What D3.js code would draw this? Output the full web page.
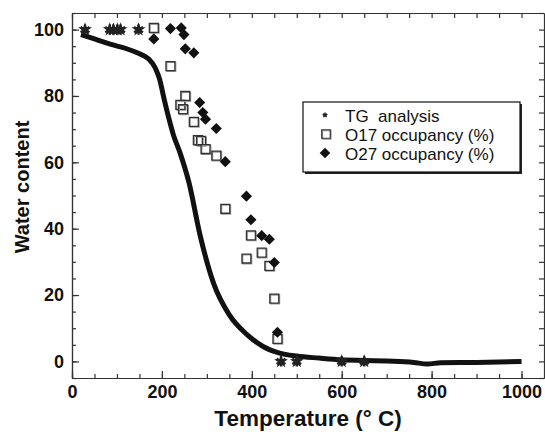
<!DOCTYPE html>
<html>
<head>
<meta charset="utf-8">
<script src="https://cdn.jsdelivr.net/npm/d3@7"></script>
<style>
  body { margin: 0; background: #fff; }
  svg { display: block; font-family: "Liberation Sans", Arial, sans-serif; }
</style>
</head>
<body>
<svg id="chart" width="545" height="432"></svg>
<script>
// TG curve (continuous line)
const curveTemp = [20, 50, 85, 120, 145, 170, 185, 195, 205, 215, 225, 240, 260, 285, 315, 350, 390, 425, 460, 500, 550, 600, 650, 700, 760, 790, 820, 900, 1000];
const curveWater = [98.5, 97.2, 95.6, 94.3, 93, 91.2, 88.5, 85, 79, 73.5, 68.5, 63, 54, 38, 23.5, 14, 8, 4.5, 2.6, 1.6, 1, 0.5, 0.3, 0.1, -0.3, -0.8, -0.4, -0.3, 0];

// TG analysis points
const tgTemp = [29, 84, 92, 101, 108, 148, 465, 500, 600, 650];
const tgWater = [100, 100, 100, 100, 100, 100, 0, 0, 0, 0];

// O17 occupancy (%)
const o17Temp = [182, 219, 241, 247, 252, 271, 280, 287, 297, 321, 341, 388, 398, 422, 439, 450, 457];
const o17Water = [100.5, 89, 77.3, 76, 80, 72.2, 66.7, 66.5, 64, 62, 46, 31, 38, 32.8, 28.8, 18.9, 6.8];

// O27 occupancy (%)
const o27Temp = [182, 219, 243, 249, 252, 271, 284, 291, 297, 321, 341, 388, 398, 422, 439, 450, 457];
const o27Water = [97.2, 100.3, 100.5, 98.5, 94.2, 93, 78, 75, 73, 70.2, 60.2, 49.8, 42.7, 37.9, 36.8, 29.8, 8.8];

const xTicks = [0, 200, 400, 600, 800, 1000];
const yTicks = [0, 20, 40, 60, 80, 100];
const legendLabels = ["TG  analysis", "O17 occupancy (%)", "O27 occupancy (%)"];

const svg = d3.select("#chart");
const plotLeft = 72, plotRight = 544, plotTop = 13, plotBottom = 378;

const x = d3.scaleLinear().domain([0, 1050]).range([plotLeft, plotRight]);
const y = d3.scaleLinear().domain([-5, 105]).range([plotBottom, plotTop]);

const axisColor = "#333";

function styleAxis(g) {
  g.selectAll("path.domain").attr("stroke", axisColor).attr("stroke-width", 1.2);
  g.selectAll(".tick line").attr("stroke", axisColor).attr("stroke-width", 1.2);
}
function styleLabels(g) {
  g.selectAll("text").attr("font-size", 18).attr("font-weight", "bold").attr("fill", "#111")
    .attr("font-family", "'Liberation Sans', Arial, sans-serif");
}

const xMinor = d3.range(0, 1050, 50);
const yMinor = d3.range(-5, 106, 5);

// bottom
svg.append("g").attr("transform", "translate(0," + plotBottom + ")")
  .call(d3.axisBottom(x).tickValues(xMinor).tickSize(-4).tickSizeOuter(0).tickFormat(""))
  .call(styleAxis);
svg.append("g").attr("transform", "translate(0," + plotBottom + ")")
  .call(d3.axisBottom(x).tickValues(xTicks).tickSize(-7).tickSizeOuter(0).tickPadding(7).tickFormat(d3.format("d")))
  .call(styleAxis)
  .call(styleLabels);
// top
svg.append("g").attr("transform", "translate(0," + plotTop + ")")
  .call(d3.axisTop(x).tickValues(xMinor).tickSize(-5).tickSizeOuter(0).tickFormat(""))
  .call(styleAxis);
// left
svg.append("g").attr("transform", "translate(" + plotLeft + ",0)")
  .call(d3.axisLeft(y).tickValues(yMinor).tickSize(-4).tickSizeOuter(0).tickFormat(""))
  .call(styleAxis);
svg.append("g").attr("transform", "translate(" + plotLeft + ",0)")
  .call(d3.axisLeft(y).tickValues(yTicks).tickSize(-7).tickSizeOuter(0).tickPadding(8).tickFormat(d3.format("d")))
  .call(styleAxis)
  .call(styleLabels);
// right
svg.append("g").attr("transform", "translate(" + plotRight + ",0)")
  .call(d3.axisRight(y).tickValues(yMinor).tickSize(-5).tickSizeOuter(0).tickFormat(""))
  .call(styleAxis);

// axis titles
svg.append("text")
  .attr("x", (plotLeft + plotRight) / 2).attr("y", 426)
  .attr("text-anchor", "middle")
  .attr("font-size", 22.5).attr("font-weight", "bold").attr("fill", "#111")
  .text("Temperature (° C)");

svg.append("text")
  .attr("transform", "translate(29,187) rotate(-90)")
  .attr("text-anchor", "middle")
  .attr("font-size", 20).attr("font-weight", "bold").attr("fill", "#111")
  .text("Water content");

// TG curve
const line = d3.line()
  .x((d, i) => x(curveTemp[i]))
  .y(d => y(d))
  .curve(d3.curveMonotoneX);

svg.append("path")
  .datum(curveWater)
  .attr("d", line)
  .attr("fill", "none")
  .attr("stroke", "#111")
  .attr("stroke-width", 5)
  .attr("stroke-linejoin", "round");

// markers
const starPath = d3.symbol(d3.symbolStar, 60)();
const asteriskPath = d3.symbol(d3.symbolAsterisk, 75)();
const squarePath = d3.symbol(d3.symbolSquare, 80)();
const diamondPath = d3.symbol(d3.symbolSquare, 62)();

function drawStar(g, cx, cy, scale) {
  const s = g.append("g").attr("transform", "translate(" + cx + "," + cy + ") scale(" + scale + ")");
  s.append("path").attr("d", starPath).attr("fill", "#222");
  s.append("path").attr("d", asteriskPath).attr("fill", "none").attr("stroke", "#222").attr("stroke-width", 2.4);
}
function drawSquare(g, cx, cy, scale) {
  const s = g.append("g").attr("transform", "translate(" + cx + "," + cy + ") scale(" + scale + ")");
  s.append("path").attr("d", squarePath).attr("transform", "translate(0.8,0.8)")
    .attr("fill", "none").attr("stroke", "#999").attr("stroke-width", 1.3);
  s.append("path").attr("d", squarePath).attr("fill", "none").attr("stroke", "#333").attr("stroke-width", 1.3);
}
function drawDiamond(g, cx, cy, scale) {
  g.append("path").attr("d", diamondPath)
    .attr("transform", "translate(" + cx + "," + cy + ") scale(" + scale + ") rotate(45)")
    .attr("fill", "#111");
}

const marks = svg.append("g");
o17Temp.forEach((t, i) => drawSquare(marks, x(t), y(o17Water[i]), 1));
o27Temp.forEach((t, i) => drawDiamond(marks, x(t), y(o27Water[i]), 1));
tgTemp.forEach((t, i) => drawStar(marks, x(t), y(tgWater[i]), 1));

// legend
const lg = svg.append("g");
lg.append("rect").attr("x", 305).attr("y", 104).attr("width", 217).attr("height", 70).attr("fill", "#222");
lg.append("rect").attr("x", 303).attr("y", 102).attr("width", 217).attr("height", 70)
  .attr("fill", "#fff").attr("stroke", "#111").attr("stroke-width", 1.2);

const legendY = [115, 134, 153];
drawStar(lg, 325, legendY[0], 0.45);
drawSquare(lg, 326, legendY[1], 0.95);
drawDiamond(lg, 325, legendY[2], 0.95);

legendLabels.forEach((label, i) => {
  lg.append("text")
    .attr("x", 345).attr("y", legendY[i] + 6.5)
    .attr("font-size", 17).attr("fill", "#111")
    .style("white-space", "pre")
    .text(label);
});
</script>
</body>
</html>
